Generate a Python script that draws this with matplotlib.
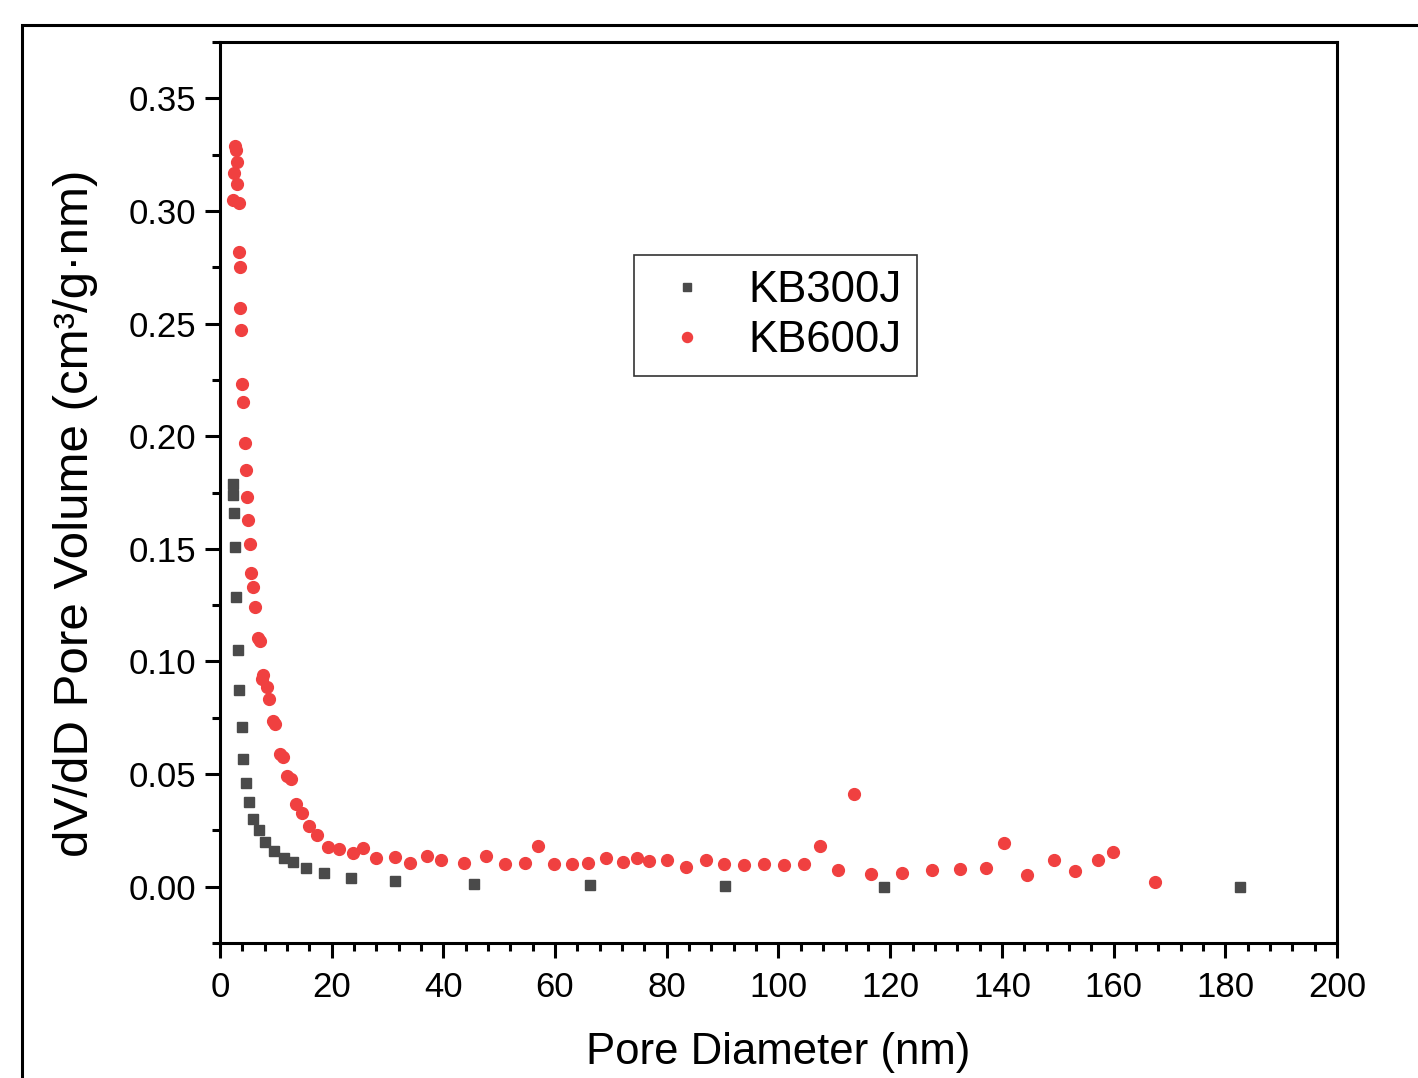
import numpy as np
import matplotlib
matplotlib.use("Agg")
import matplotlib.pyplot as plt
from matplotlib.patches import Rectangle
from matplotlib.ticker import MultipleLocator

plt.rcParams['font.family'] = ['Liberation Sans', 'DejaVu Sans']

# KB300J (grey squares)
kb300_x = [2.33, 2.33, 2.5, 2.7, 2.86, 3.2, 3.4, 3.94, 4.1, 4.65, 5.2, 5.9, 7.0,
           8.06, 9.67, 11.46, 13.1, 15.4, 18.6, 23.5, 31.3, 45.5, 66.2, 90.4,
           118.9, 182.6]
kb300_y = [0.179, 0.174, 0.166, 0.1506, 0.1288, 0.1053, 0.0875, 0.0711, 0.0569,
           0.0462, 0.0378, 0.0302, 0.0253, 0.020, 0.016, 0.0129, 0.0111, 0.0084,
           0.0062, 0.004, 0.0027, 0.0013, 0.0009, 0.0004, 0.0, 0.0]

# KB600J (red dots)
kb600_x = [2.69, 2.86, 3.04, 2.5, 3.04, 2.33, 3.4, 3.4, 3.58, 3.58, 3.76, 3.94,
           4.1, 4.5, 4.65, 4.83, 5.0, 5.37, 5.55, 5.9, 6.27,
           6.8, 7.16, 7.7, 7.5, 8.4, 8.8, 9.5, 9.85, 10.7, 11.3, 12.0, 12.7,
           13.6, 14.7, 15.9, 17.4, 19.3, 21.3, 23.8, 25.6, 27.9, 31.3, 34.0,
           37.0, 39.6, 43.7, 47.6, 51.0, 54.6, 57.0, 59.8, 63.0, 65.9, 69.1,
           72.2, 74.7, 76.8, 80.0, 83.4, 87.0, 90.2, 93.8, 97.4, 101.0, 104.6,
           107.4, 110.7, 113.5, 116.6, 122.1, 127.5, 132.5, 137.2, 140.4, 144.5,
           149.3, 153.1, 157.2, 159.9, 167.4]
kb600_y = [0.329, 0.327, 0.3216, 0.3167, 0.312, 0.305, 0.3036, 0.2816, 0.275,
           0.2568, 0.247, 0.2234, 0.215, 0.1968, 0.185, 0.173, 0.163, 0.152,
           0.1395, 0.133, 0.124,
           0.1106, 0.1093, 0.0942, 0.0924, 0.0888, 0.0835, 0.0737, 0.0724,
           0.0591, 0.0577, 0.0493, 0.048, 0.0369, 0.0329, 0.0271, 0.0231, 0.0178,
           0.0169, 0.0151, 0.0173, 0.0129, 0.0133, 0.0107,
           0.0138, 0.012, 0.0107, 0.0138, 0.0102, 0.0107, 0.0182, 0.0102, 0.0102,
           0.0107, 0.0129, 0.0111, 0.0129, 0.0115, 0.012, 0.0089, 0.012, 0.0102,
           0.0098, 0.0102, 0.0098, 0.0102,
           0.0182, 0.0076, 0.0413, 0.0058, 0.0062, 0.0076, 0.008, 0.0084, 0.0195,
           0.0053, 0.012, 0.0071, 0.012, 0.0155, 0.0022]

fig = plt.figure(figsize=(14.18, 10.78), dpi=100)
ax = fig.add_axes([0.1551, 0.1252, 0.7878, 0.8358])

ax.plot(kb300_x, kb300_y, ls='none', marker='s', ms=7.5, color='#4a4a4a',
        mec='#4a4a4a', label='KB300J')
ax.plot(kb600_x, kb600_y, ls='none', marker='o', ms=8.5, color='#f04040',
        mec='#f04040', label='KB600J')

ax.set_xlim(0, 200)
ax.set_ylim(-0.025, 0.375)
ax.xaxis.set_major_locator(MultipleLocator(20))
ax.xaxis.set_minor_locator(MultipleLocator(4))
ax.yaxis.set_major_locator(MultipleLocator(0.05))
ax.yaxis.set_minor_locator(MultipleLocator(0.025))
ax.yaxis.set_major_formatter(plt.FuncFormatter(lambda v, p: f"{v:.2f}"))

for s in ax.spines.values():
    s.set_linewidth(2.2)
ax.tick_params(which='major', direction='out', length=11, width=2.2,
               labelsize=25, pad=6)
ax.tick_params(axis='x', which='major', pad=9)
ax.tick_params(which='minor', direction='out', length=6, width=2.2)
ax.tick_params(top=False, right=False)

ax.set_xlabel('Pore Diameter (nm)', fontsize=31.5, labelpad=20)
ax.set_ylabel('dV/dD Pore Volume (cm³/g·nm)', fontsize=35.5)
ax.yaxis.set_label_coords(-0.109, 0.477)

leg = ax.legend(loc='upper left', bbox_to_anchor=(0.3706, 0.7636),
                borderaxespad=0, fontsize=31.5, frameon=True, fancybox=False,
                handletextpad=0.53, handlelength=1.74, borderpad=0.35,
                labelspacing=0.2, markerscale=0.85)
leg.get_frame().set_edgecolor('black')
leg.get_frame().set_linewidth(1.2)

fig.patches.append(Rectangle((22 / 1418, -0.1), 2.0, 1 - 25 / 1078 + 0.1,
                             transform=fig.transFigure, fill=False,
                             lw=2.2, ec='black'))

fig.savefig('out.png', dpi=100)
